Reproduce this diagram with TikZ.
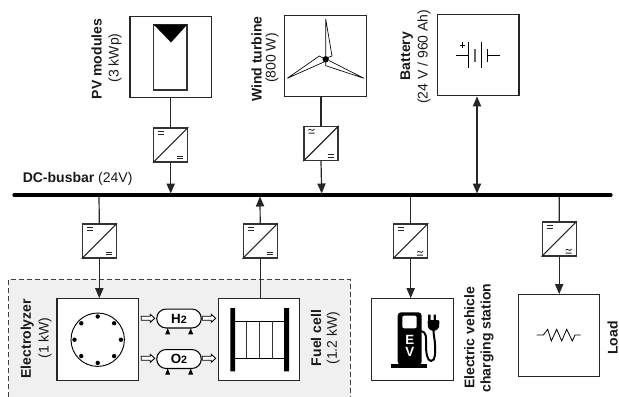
\documentclass[tikz,border=0pt]{standalone}
\usepackage{fontspec}
\setmainfont{Liberation Sans}
\usetikzlibrary{arrows.meta}
\tikzset{
  wire/.style={draw=black!85,line width=0.9pt},
  arr/.style={wire,-{Triangle[length=7.5pt,width=6.2pt]}},
  arrboth/.style={wire,{Triangle[length=7.5pt,width=6.2pt]}-{Triangle[length=7.5pt,width=6.2pt]}},
  sysbox/.style={draw=black!85,fill=white,line width=0.9pt,minimum width=61.2pt,minimum height=61.2pt,inner sep=0pt},
  convbox/.style={draw=black!80,fill=white,line width=0.9pt,minimum width=25.6pt,minimum height=25.6pt,inner sep=0pt},
  lab/.style={rotate=90,font=\fontsize{10.5}{12}\selectfont,text=black!90,inner sep=0pt},
  blab/.style={lab,font=\fontsize{10.5}{12}\selectfont\bfseries},
  tank/.style={draw=black,fill=white,line width=0.8pt,rounded corners=7pt,minimum width=33.4pt,minimum height=14.2pt,inner sep=0pt,font=\fontsize{10}{10}\selectfont\bfseries},
  thin mark/.style={draw=black!85,line width=0.6pt},
}
\newcommand{\dcmark}[2]{\draw[thin mark] (#1,#2-1.2) -- +(6,0) (#1,#2+1.2) -- +(6,0);}
\newcommand{\acmark}[2]{\draw[thin mark] (#1,#2-1.2) .. controls (#1+1.5,#2-4.5) and (#1+3.5,#2+1.5) .. (#1+6,#2-2.5) (#1,#2+1.6) -- +(6,0);}
% name, centre x, centre y, mark top-left, mark bottom-right
\newcommand{\conv}[5]{%
  \node[convbox] (#1) at (#2,#3) {};
  \draw[wire,line width=0.8pt] (#1.south west) -- (#1.north east);
  #4{#2-12.5}{#3-12}
  #5{#2+6.5}{#3+12.5}
}
\newcommand{\hollow}[2]{\draw[draw=black,fill=white,line width=0.65pt] (#1,#2-2) -- (#1+9,#2-2) -- (#1+9,#2-4) -- (#1+13.4,#2) -- (#1+9,#2+4) -- (#1+9,#2+2) -- (#1,#2+2) -- cycle;}
\newcommand{\legs}[2]{\fill[black] (#1-2.5,#2+6) -- (#1,#2) -- (#1+2.5,#2+6) -- cycle;}
\begin{document}
\begin{tikzpicture}[x=0.75pt,y=-0.75pt]
\useasboundingbox (0,0) rectangle (619,397);
% storage area
\fill[black!6] (8.5,279.3) rectangle (350.5,397);
\draw[black!75,line width=0.8pt,dash pattern=on 4pt off 2pt] (8.5,397) -- (8.5,279.3) -- (350.5,279.3) -- (350.5,397);
% bus
\coordinate (busL) at (14,195);
\coordinate (busR) at (611,195);
\coordinate (bPV) at (170.7,193.5);
\coordinate (bWT) at (321.7,193.5);
\coordinate (bBAT) at (477,193.5);
\coordinate (bEL) at (99,195);
\coordinate (bFC) at (260,196.5);
\coordinate (bEV) at (410.7,195);
\coordinate (bLD) at (559.3,195);
% upper blocks
\node[sysbox] (pv) at (170.7,57) {};
\node[sysbox] (wt) at (325.3,56) {};
\node[sysbox] (bat) at (478.2,55) {};
\conv{cpv}{170.7}{145}{\dcmark}{\dcmark}
\conv{cwt}{321}{143.5}{\acmark}{\dcmark}
\draw[wire] (pv.south) -- (cpv.north);
\draw[arr] (cpv.south) -- (bPV);
\draw[wire] (wt.south -| cwt.north) -- (cwt.north);
\draw[arr] (cwt.south) -- (bWT);
\draw[arrboth] (bat.south -| bBAT) -- (bBAT);
% lower blocks
\node[sysbox] (el) at (97.8,339.5) {};
\node[sysbox] (fc) at (259,339.5) {};
\node[sysbox] (ev) at (412.5,339.5) {};
\node[sysbox] (ld) at (559,335.5) {};
\conv{cel}{99.3}{241}{\dcmark}{\dcmark}
\conv{cfc}{260.2}{241}{\dcmark}{\dcmark}
\conv{cev}{410.7}{241}{\dcmark}{\acmark}
\conv{cld}{559.2}{239}{\dcmark}{\acmark}
\draw[wire] (bEL) -- (cel.north);
\draw[arr] (cel.south) -- (el.north -| cel.south);
\draw[wire] (fc.north -| cfc.south) -- (cfc.south);
\draw[arr] (cfc.north) -- (bFC);
\draw[wire] (bEV) -- (cev.north);
\draw[arr] (cev.south) -- (ev.north -| cev.south);
\draw[wire] (bLD) -- (cld.north);
\draw[arr] (cld.south) -- (ld.north -| cld.south);
% bus bar on top of junctions
\draw[line width=2.4pt,line cap=round] (busL) -- (busR);
% PV symbol
\draw[black!80,line width=0.9pt] (153.7,25) rectangle (187,90);
\fill[black] (153.7,24.5) -- (187.3,24.5) -- (171,42.5) -- cycle;
% turbine
\draw[black,line width=0.5pt,line join=miter]
  (325.7,19) -- (332,56) -- (328,57.5)
  (325.7,19) -- (325.7,56)
  (287.3,78.3) -- (319.3,56) -- (323,58)
  (287.3,78.3) -- (325,61.5)
  (364,78.3) -- (325.7,65.7) -- (325.7,62)
  (364,78.3) -- (329,60.5);
\fill[black] (325.7,59.3) circle (3.2);
% battery
\draw[black,line width=0.6pt] (456,55) -- (468.7,55) (468.7,42) -- (468.7,68) (481,42) -- (481,68) (487.7,49) -- (487.7,62) (487.7,55) -- (500,55);
\draw[black!60,line width=1.1pt] (475,49) -- (475,62);
\draw[black,line width=0.6pt] (460,45) -- (465.4,45) (462.7,42.3) -- (462.7,47.7);
% electrolyzer
\draw[black,line width=0.7pt] (97.7,339.7) circle (26.7);
\foreach \a in {0,45,...,315} \fill[black] (97.7,339.7) ++(\a:23.2) circle (2.2);
% tanks
\node[tank] (h2) at (179,318.5) {H{\fontsize{8}{8}\selectfont 2}};
\node[tank] (o2) at (179,359) {O{\fontsize{8}{8}\selectfont 2}};
\legs{167.7}{328.3}\legs{190.7}{328.3}
\legs{167.7}{368.6}\legs{190.7}{368.6}
\hollow{141.3}{318.3}\hollow{202.3}{318.3}
\hollow{141.3}{358.3}\hollow{202.3}{358.3}
% fuel cell
\fill[black] (230.3,308) rectangle (235,371.3) (284,308) rectangle (289,371.3);
\draw[black,line width=0.7pt] (235,321) -- (284,321) (235,358.7) -- (284,358.7);
\draw[black!80,line width=0.7pt] (246.7,321) -- (246.7,358.7) (259.7,321) -- (259.7,358.7) (272.3,321) -- (272.3,358.7);
% EV pump
\fill[black] (391.3,364.2) rectangle (427.3,368);
\fill[black,rounded corners=2.5pt] (397.7,365) -- (397.7,312.3) -- (421.7,312.3) -- (421.7,365) -- cycle;
\fill[white,rounded corners=1.5pt] (402.3,315.7) rectangle (416.7,328.3);
\draw[black,line width=1.5pt] (421,331) .. controls (427,332) and (426,338) .. (426,345) .. controls (426,352) and (427,361) .. (431,361) .. controls (436,361) and (435,352) .. (435,345) .. controls (435,340) and (433.5,336) .. (433.5,329);
\fill[black,rounded corners=1pt] (427.5,320) -- (439.5,320) -- (439,328) -- (435,331) -- (432,331) -- (428,328) -- cycle;
\fill[black] (428.2,314.5) rectangle (430.5,320.5) (433.5,314.5) rectangle (435.8,320.5);
\node[text=white,font=\fontsize{10}{10}\selectfont\bfseries,inner sep=0pt] (evE) at (409.7,340) {E};
\node[text=white,font=\fontsize{10}{10}\selectfont\bfseries,inner sep=0pt] (evV) at (409.7,351.7) {V};
% resistor
\draw[black,line width=0.6pt,line join=miter] (536.7,335) -- (543.3,335) -- (547.7,329.3) -- (551.3,341) -- (556.7,329.3) -- (561.7,341) -- (566.7,329.3) -- (572.3,341) -- (575,335) -- (580.7,335);
% labels
\node[blab] (tPV) at (96.7,59) {PV modules};
\node[lab] (tPVv) at (115,58) {(3 kWp)};
\node[blab] (tWT) at (256.7,59) {Wind turbine};
\node[lab] (tWTv) at (272,58) {(800 W)};
\node[blab] (tBAT) at (406.7,56) {Battery};
\node[lab] (tBATv) at (424,56.7) {(24 V / 960 Ah)};
\node[anchor=base west,inner sep=0pt,text=black!90,font=\fontsize{10.5}{12}\selectfont] (tBUS) at (22.5,182) {\textbf{DC-busbar} (24V)};
\node[blab] (tEL) at (27.3,338.7) {Electrolyzer};
\node[lab] (tELv) at (45,338) {(1 kW)};
\node[blab] (tFC) at (316,338) {Fuel cell};
\node[lab] (tFCv) at (333.3,338) {(1.2 kW)};
\node[blab] (tEV) at (469.3,338) {Electric vehicle};
\node[blab] (tEV2) at (487,338) {charging station};
\node[blab] (tLD) at (612.5,338) {Load};
\end{tikzpicture}
\end{document}
